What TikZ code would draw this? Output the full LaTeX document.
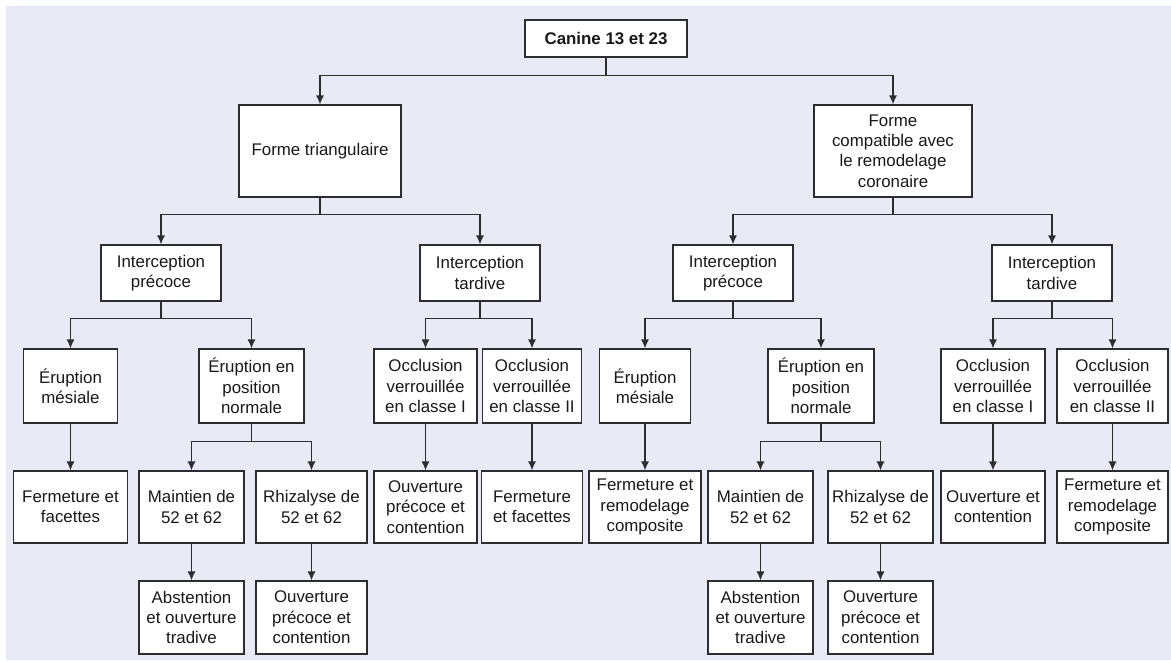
\documentclass[tikz,border=0pt]{standalone}
\usepackage{fontspec}
\setmainfont{Liberation Sans}
\usepackage{tikz}
\usetikzlibrary{arrows.meta}
\definecolor{fond}{RGB}{232,234,246}
\definecolor{trait}{RGB}{45,45,48}

\begin{document}
\begin{tikzpicture}[x=0.02cm, y=-0.02cm]
%Declaration of styles
	\tikzstyle{box} = [rectangle, draw=trait, fill=white, line width=0.7pt, align=center, inner sep=0pt, text=black!90, font=\fontsize{9.6}{11.6}\selectfont] %style for the boxes
	\tikzstyle{lvA} = [box, minimum width=2.40cm, minimum height=1.12cm] %interception boxes
	\tikzstyle{lvB} = [box, minimum height=1.48cm] %third row
	\tikzstyle{lvC} = [box, minimum height=1.44cm] %fourth row
	\tikzstyle{lvD} = [box, minimum height=1.46cm] %last row
	\tikzstyle{arr} = [draw=trait, line width=0.7pt, -{Latex[length=1.8mm, width=1.6mm]}] %style for the arrows
%Background
	\fill [fond] (6,6) rectangle (1171,660);
	\useasboundingbox (0,0) rectangle (1171,661);
%Nodes, the elements of the graphic
	\node [box, minimum width=3.24cm, minimum height=0.74cm, font=\fontsize{9.6}{11.6}\selectfont\bfseries] (root) at (606,38.5) {Canine 13 et 23};
	\node [box, minimum width=3.24cm, minimum height=1.84cm] (ft) at (320,151) {Forme triangulaire};
	\node [box, minimum width=3.16cm, minimum height=1.84cm] (fc) at (893,151) {Forme\\compatible avec\\le remodelage\\coronaire};
	\node [lvA] (ipL) at (161,273) {Interception\\précoce};
	\node [lvA] (itL) at (480,273) {Interception\\tardive};
	\node [lvA] (ipR) at (733,273) {Interception\\précoce};
	\node [lvA] (itR) at (1052,273) {Interception\\tardive};
	\node [lvB, minimum width=1.88cm] (emL) at (70.5,386) {Éruption\\mésiale};
	\node [lvB, minimum width=2.10cm] (enL) at (251.5,386) {Éruption en\\position\\normale};
	\node [lvB, minimum width=2.06cm] (oaL) at (425.5,386) {Occlusion\\verrouillée\\en classe I};
	\node [lvB, minimum width=1.98cm] (obL) at (532,386) {Occlusion\\verrouillée\\en classe II};
	\node [lvB, minimum width=1.82cm] (emR) at (645,386) {Éruption\\mésiale};
	\node [lvB, minimum width=2.12cm] (enR) at (821,386) {Éruption en\\position\\normale};
	\node [lvB, minimum width=2.08cm] (oaR) at (993,386) {Occlusion\\verrouillée\\en classe I};
	\node [lvB, minimum width=2.22cm] (obR) at (1112.5,386) {Occlusion\\verrouillée\\en classe II};
	\node [lvC, minimum width=2.28cm] (ffL) at (70.5,507) {Fermeture et\\facettes};
	\node [lvC, minimum width=2.10cm] (mtL) at (191.5,507) {Maintien de\\52 et 62};
	\node [lvC, minimum width=2.22cm] (rhL) at (311.5,507) {Rhizalyse de\\52 et 62};
	\node [lvC, minimum width=2.06cm] (opL) at (425.5,507) {Ouverture\\précoce et\\contention};
	\node [lvC, minimum width=2.02cm] (ffM) at (532,507) {Fermeture\\et facettes};
	\node [lvC, minimum width=2.24cm] (frR) at (645,507) {Fermeture et\\remodelage\\composite};
	\node [lvC, minimum width=2.10cm] (mtR) at (760.5,507) {Maintien de\\52 et 62};
	\node [lvC, minimum width=2.10cm] (rhR) at (880.5,507) {Rhizalyse de\\52 et 62};
	\node [lvC, minimum width=2.08cm] (ocR) at (993,507) {Ouverture et\\contention};
	\node [lvC, minimum width=2.22cm] (fcR) at (1112.5,507) {Fermeture et\\remodelage\\composite};
	\node [lvD, minimum width=2.10cm] (abL) at (191.5,617.5) {Abstention\\et ouverture\\tradive};
	\node [lvD, minimum width=2.22cm] (ouL) at (311.5,617.5) {Ouverture\\précoce et\\contention};
	\node [lvD, minimum width=2.10cm] (abR) at (760.5,617.5) {Abstention\\et ouverture\\tradive};
	\node [lvD, minimum width=2.10cm] (ouR) at (880.5,617.5) {Ouverture\\précoce et\\contention};
%Connectors
	\draw [arr] (root.south) -- ++(0,18) -| (ft.north);
	\draw [arr] (root.south) -- ++(0,18) -| (fc.north);
	\draw [arr] (ft.south) -- ++(0,17) -| (ipL.north);
	\draw [arr] (ft.south) -- ++(0,17) -| (itL.north);
	\draw [arr] (fc.south) -- ++(0,17) -| (ipR.north);
	\draw [arr] (fc.south) -- ++(0,17) -| (itR.north);
	\draw [arr] (ipL.south) -- ++(0,17) -| (emL.north);
	\draw [arr] (ipL.south) -- ++(0,17) -| (enL.north);
	\draw [arr] (itL.south) -- ++(0,17) -| (oaL.north);
	\draw [arr] (itL.south) -- ++(0,17) -| (obL.north);
	\draw [arr] (ipR.south) -- ++(0,17) -| (emR.north);
	\draw [arr] (ipR.south) -- ++(0,17) -| (enR.north);
	\draw [arr] (itR.south) -- ++(0,17) -| (oaR.north);
	\draw [arr] (itR.south) -- ++(0,17) -| (obR.north);
	\draw [arr] (emL.south) -- (ffL.north);
	\draw [arr] (enL.south) -- ++(0,18) -| (mtL.north);
	\draw [arr] (enL.south) -- ++(0,18) -| (rhL.north);
	\draw [arr] (oaL.south) -- (opL.north);
	\draw [arr] (obL.south) -- (ffM.north);
	\draw [arr] (emR.south) -- (frR.north);
	\draw [arr] (enR.south) -- ++(0,18) -| (mtR.north);
	\draw [arr] (enR.south) -- ++(0,18) -| (rhR.north);
	\draw [arr] (oaR.south) -- (ocR.north);
	\draw [arr] (obR.south) -- (fcR.north);
	\draw [arr] (mtL.south) -- (abL.north);
	\draw [arr] (rhL.south) -- (ouL.north);
	\draw [arr] (mtR.south) -- (abR.north);
	\draw [arr] (rhR.south) -- (ouR.north);
\end{tikzpicture}
\end{document}
